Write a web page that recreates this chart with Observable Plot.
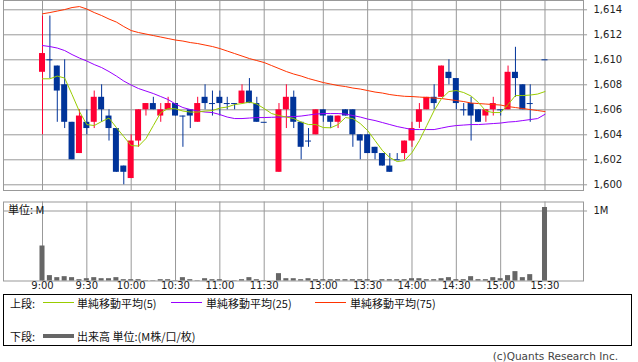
<!DOCTYPE html>
<html><head><meta charset="utf-8">
<script src="https://cdn.jsdelivr.net/npm/d3@7"></script>
<script src="https://cdn.jsdelivr.net/npm/@observablehq/plot@0.6"></script>
<style>
html,body{margin:0;padding:0;background:#fff;}
#wrap{position:relative;width:638px;height:362px;overflow:hidden;font-family:"DejaVu Sans","Noto Sans CJK JP",sans-serif;color:#222;}
#price{position:absolute;left:0;top:0;}
#vol{position:absolute;left:0;top:196px;}
.abs{position:absolute;white-space:nowrap;font-family:"Noto Sans CJK JP",sans-serif;font-size:11px;line-height:12px;color:#111;}
.sw{position:absolute;height:0;}
#legend{position:absolute;left:3px;top:294px;width:629px;height:52px;border:1px solid #000;box-sizing:border-box;}
#cap{position:absolute;right:20px;top:350px;font-family:"DejaVu Sans",sans-serif;font-size:10.5px;line-height:12px;color:#444;white-space:nowrap;}
</style></head>
<body><div id="wrap">
<div id="price"></div>
<div id="vol"></div>
<div class="abs" style="left:8px;top:203px;">単位: M</div>
<div id="legend"></div>
<div id="cap">(c)Quants Research Inc.</div>
</div>
<script>
// ---------- data ----------
const times = ["9:00","9:05","9:10","9:15","9:20","9:25","9:30","9:35","9:40","9:45","9:50","9:55",
"10:00","10:05","10:10","10:15","10:20","10:25","10:30","10:35","10:40","10:45","10:50","10:55",
"11:00","11:05","11:10","11:15","11:20","11:25","11:30","",
"12:30","12:35","12:40","12:45","12:50","12:55",
"13:00","13:05","13:10","13:15","13:20","13:25","13:30","13:35","13:40","13:45","13:50","13:55",
"14:00","14:05","14:10","14:15","14:20","14:25","14:30","14:35","14:40","14:45","14:50","14:55",
"15:00","15:05","15:10","15:15","15:20","15:25","15:30"];
const open = [1609,1610,1609.5,1608,1605,1602.5,1605,1605,1607,1605.5,
1604.5,1601.5,1600.5,1603.5,1606,1606.5,1605.5,1606,1606.5,1605.5,
1606,1605,1607,1606.5,1607,1606.5,1606.5,1606.5,1607.5,1606.5,
1605,null,1601,1606,1607,1605,1603.5,1604,1606,1605.5,
1605,1606,1606,1604,1604,1603,1602.5,1601.5,1602,1602.5,
1603.5,1605,1606,1607,1607,1609,1608.5,1606,1606.5,1606,
1605.5,1606,1606,1606,1609,1608,1606.5,null,1610];
const high = [1613.5,1613.5,1609.5,1610,1605,1606,1606,1607.5,1608,1606,
1604.5,1601.5,1604,1606,1606.5,1607,1606.5,1607,1606.5,1605.5,
1606,1607,1608,1607.5,1607.5,1607,1606.5,1608,1608.5,1607,
1605,null,1606.5,1608,1607.5,1605,1604.5,1606,1606,1605.5,
1605.5,1606,1606,1604,1604,1603,1602.5,1602.5,1602.5,1603.5,
1605,1606.5,1607,1608,1609.5,1610,1608.5,1606.5,1607,1606,
1606,1607,1606,1609.5,1611,1608,1608,null,1610];
const low = [1604,1608.5,1605,1604.5,1602,1602.5,1604,1604.5,1605,1603.5,
1601,1600,1600.5,1603,1605.5,1606,1605,1606,1605.5,1603,
1604.5,1605,1606,1605.5,1605.5,1606,1606,1606.5,1606.5,1605,
1605,null,1601,1604.5,1604.5,1602,1603,1604,1605,1604.5,
1604.5,1605.5,1603,1602,1602.5,1602,1601.5,1601,1602,1602,
1603,1604.5,1606,1606,1607,1608,1606,1605.5,1603.5,1605,
1605,1605.5,1605.5,1606,1607,1606,1605,null,1610];
const close = [1610.5,1610,1607.5,1605,1602,1605.5,1604.5,1607,1606,1604.5,
1601,1601,1603.5,1606,1606.5,1606,1606,1606.5,1605.5,1605.5,
1605.5,1606.5,1606.5,1606.5,1606.5,1606.5,1606.5,1607.5,1606.5,1605,
1605,null,1606,1607,1605,1603,1603.5,1606,1605.5,1605,
1605.5,1605.5,1604,1603.5,1602.5,1602.5,1601.5,1601,1602,1603.5,
1604.5,1606,1607,1606.5,1609.5,1608.5,1606.5,1606,1605.5,1605,
1606,1606.5,1606,1609,1608.5,1606,1606.5,null,1610];
const volume = [0.50,0.077,0.048,0.062,0.048,0.019,0.033,0.048,0.033,0.033,
0.048,0.019,0.019,0.019,0.005,0.005,0.019,0.019,0.005,0.048,
0.019,0.005,0.033,0.019,0.019,0.005,0.005,0.019,0.048,0.019,
0.005,null,0.105,0.033,0.033,0.019,0.033,0.019,0.019,0.019,
0.019,0.019,0.019,0.019,0.019,0.005,0.019,0.019,0.019,0.019,
0.033,0.033,0.019,0.019,0.033,0.048,0.019,0.019,0.062,0.019,
0.019,0.048,0.033,0.077,0.134,0.048,0.091,null,1.05];
const ma5 = [1608.48,1608.48,1608.70,1608.54,1607.22,1605.86,1604.82,1604.74,1605.06,1605.34,
1604.58,1603.86,1603.14,1603.10,1603.70,1604.74,1605.78,1606.10,1606.08,1605.90,
1605.82,1605.82,1605.90,1605.94,1606.14,1606.22,1606.42,1606.50,1606.62,1606.46,
1606.10,1605.70,1605.54,1605.42,1605.30,1605.02,1604.82,1604.82,1604.58,1604.56,
1604.82,1605.38,1605.30,1604.90,1604.34,1603.54,1602.74,1602.18,1601.86,1601.94,
1602.58,1603.54,1604.74,1605.94,1606.90,1607.46,1607.54,1607.38,1607.10,1606.58,
1605.90,1605.78,1605.78,1606.42,1607.14,1607.14,1607.18,1607.26,1607.46];
const ma25 = [1611.14,1611.06,1610.94,1610.74,1610.42,1610.14,1609.90,1609.62,1609.38,1609.06,
1608.70,1608.30,1607.98,1607.70,1607.50,1607.30,1607.06,1606.82,1606.46,1606.18,
1606.02,1605.90,1605.82,1605.78,1605.62,1605.42,1605.30,1605.30,1605.34,1605.38,
1605.38,1605.40,1605.42,1605.44,1605.46,1605.50,1605.58,1605.66,1605.70,1605.70,
1605.70,1605.66,1605.54,1605.42,1605.26,1605.14,1604.98,1604.82,1604.66,1604.54,
1604.42,1604.42,1604.42,1604.42,1604.54,1604.66,1604.74,1604.78,1604.82,1604.82,
1604.86,1604.90,1604.94,1605.02,1605.06,1605.14,1605.22,1605.30,1605.64];
const ma75 = [1613.68,1613.78,1613.90,1614.02,1614.18,1614.26,1614.06,1613.78,1613.54,1613.26,
1613.02,1612.66,1612.34,1612.18,1612.06,1611.94,1611.82,1611.70,1611.58,1611.50,
1611.38,1611.30,1611.18,1611.06,1610.90,1610.70,1610.50,1610.30,1610.10,1609.94,
1609.78,1609.54,1609.30,1609.06,1608.86,1608.70,1608.50,1608.34,1608.18,1608.06,
1607.94,1607.86,1607.74,1607.66,1607.54,1607.42,1607.34,1607.22,1607.14,1607.08,
1607.06,1607.02,1606.98,1606.94,1606.90,1606.82,1606.74,1606.66,1606.54,1606.50,
1606.46,1606.42,1606.38,1606.26,1606.18,1606.10,1606.02,1605.94,1605.86];
const tickLabels = ["9:00","9:30","10:00","10:30","11:00","11:30","13:00","13:30","14:00","14:30","15:00","15:30"];
const priceTicks = [1600,1602,1604,1606,1608,1610,1612,1614];
const volTicks = [1];
const legendItems = ["単純移動平均(5)","単純移動平均(25)","単純移動平均(75)"];

// ---------- build ----------
const RED = "#ff0033", BLUE = "#003399", GRID = "#999999";
const C5 = "#99cc00", C25 = "#9900ff", C75 = "#ff3300";
const X0 = -5.278, X1 = 73.21, HW = 0.406, VW = 0.34;
const tickIdx = tickLabels.map(t => times.indexOf(t));
const rows = times.map((t, i) => ({i, t, o: open[i], h: high[i], l: low[i], c: close[i], v: volume[i], m5: ma5[i], m25: ma25[i], m75: ma75[i]}));
const bars = rows.filter(d => d.o != null);
const col = d => d.c > d.o ? RED : BLUE;
const fmt = d3.format(",");
const font = {fontFamily: "DejaVu Sans, sans-serif", fontSize: "10px", background: "transparent", overflow: "visible"};

const price = Plot.plot({
  width: 638, height: 191,
  marginLeft: 3, marginRight: 55, marginTop: 0, marginBottom: 1,
  style: font,
  x: {domain: [X0, X1], axis: null},
  y: {domain: [1599.544, 1614.744], axis: null},
  color: {type: "identity"},
  marks: [
    Plot.ruleY(priceTicks, {stroke: GRID}),
    Plot.ruleX(tickIdx, {stroke: GRID}),
    Plot.frame({stroke: GRID}),
    Plot.ruleY(priceTicks, {x1: X1, x2: X1 + 0.55, stroke: GRID}),
    Plot.text(priceTicks, {x: X1, y: d => d, text: d => fmt(d), dx: 10, textAnchor: "start", fill: "#222"}),
    Plot.ruleX(bars, {x: "i", y1: "l", y2: "h", stroke: col}),
    Plot.rect(bars.filter(d => d.o !== d.c), {x1: d => d.i - HW, x2: d => d.i + HW, y1: "o", y2: "c", fill: col}),
    Plot.ruleY(bars.filter(d => d.o === d.c), {y: "o", x1: d => d.i - HW, x2: d => d.i + HW, stroke: BLUE}),
    Plot.line(rows, {x: "i", y: "m75", stroke: C75, strokeWidth: 1}),
    Plot.line(rows, {x: "i", y: "m25", stroke: C25, strokeWidth: 1}),
    Plot.line(rows, {x: "i", y: "m5", stroke: C5, strokeWidth: 1})
  ]
});
document.getElementById("price").appendChild(price);

const vol = Plot.plot({
  width: 638, height: 100,
  marginLeft: 3, marginRight: 55, marginTop: 5.5, marginBottom: 15.5,
  style: font,
  x: {domain: [X0, X1], axis: null},
  y: {domain: [0, 79 / 70], axis: null},
  marks: [
    Plot.ruleY(volTicks, {stroke: GRID}),
    Plot.ruleX(tickIdx, {stroke: GRID}),
    Plot.frame({stroke: GRID}),
    Plot.ruleY(volTicks, {x1: X1, x2: X1 + 0.55, stroke: GRID}),
    Plot.text(volTicks, {x: X1, y: d => d, text: d => d + "M", dx: 10, textAnchor: "start", fill: "#222"}),
    Plot.rect(bars.filter(d => d.v != null), {x1: d => d.i - VW, x2: d => d.i + VW, y1: 0, y2: "v", fill: "#666666"}),
    Plot.text(tickIdx, {x: d => d, frameAnchor: "bottom", dy: 8, text: (d, k) => tickLabels[k], fill: "#222"})
  ]
});
document.getElementById("vol").appendChild(vol);

// legend
const lg = document.getElementById("legend");
function add(html, left, top, style) {
  const e = document.createElement("div");
  e.className = "abs";
  e.style.left = left + "px"; e.style.top = top + "px";
  if (style) Object.assign(e.style, style);
  e.textContent = html;
  lg.appendChild(e);
  return e;
}
function sw(left, top, w, color, th) {
  const e = document.createElement("div");
  e.className = "sw";
  e.style.left = left + "px"; e.style.top = top + "px"; e.style.width = w + "px";
  e.style.borderTop = th + "px solid " + color;
  lg.appendChild(e);
}
add("上段:", 6, 2);
const colors = [C5, C25, C75];
const swx = [39, 167, 311], tx = [73, 202, 346];
legendItems.forEach((t, k) => { sw(swx[k], 7, 31, colors[k], 1); add(t, tx[k], 2); });
add("下段:", 6, 35);
sw(39, 39, 31, "#666", 4);
add("出来高 単位:(M株/口/枚)", 73, 35);
</script>
</body></html>
